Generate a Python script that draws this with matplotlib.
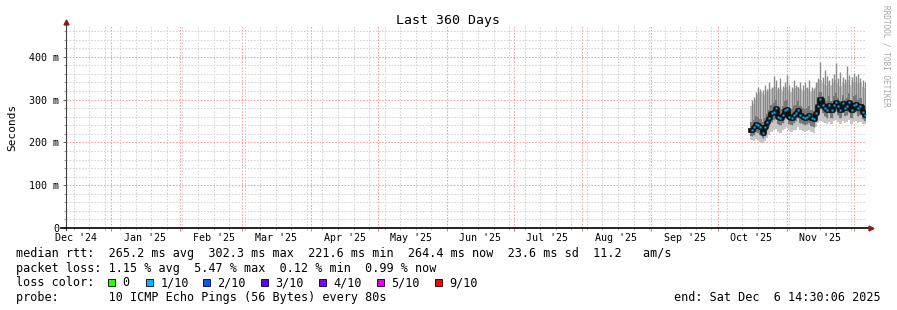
import numpy as np
import pandas as pd
import matplotlib
matplotlib.use('Agg')
import matplotlib.pyplot as plt
import matplotlib.dates as mdates
from matplotlib.ticker import MultipleLocator, NullFormatter
from matplotlib.patches import Rectangle

plt.rcParams['font.family'] = ['DejaVu Sans Mono']

# daily values in ms, Oct 15 2025 -> Dec 6 2025
med = np.array([230, 235, 243, 240, 235, 222, 235, 247, 256, 268,
                272, 280, 260, 258, 264, 276, 278, 260, 258, 264,
                268, 276, 264, 260, 258, 260, 264, 256, 254, 268,
                284, 302, 288, 280, 276, 288, 276, 288, 295, 284,
                276, 291, 280, 284, 295, 276, 288, 290, 280, 284,
                270, 265])
lo = np.array([205, 203, 207, 205, 200, 198, 203, 210, 218, 225,
               228, 232, 225, 222, 228, 232, 235, 228, 225, 228,
               230, 235, 230, 226, 224, 226, 230, 224, 222, 235,
               245, 250, 248, 245, 242, 248, 244, 250, 252, 248,
               244, 250, 246, 248, 252, 244, 248, 250, 246, 248,
               242, 244])
hi = np.array([285, 290, 300, 312, 318, 315, 310, 318, 322, 325,
               328, 330, 322, 325, 320, 326, 330, 322, 318, 325,
               328, 330, 324, 320, 322, 326, 325, 318, 320, 330,
               338, 345, 340, 336, 332, 340, 335, 342, 345, 338,
               332, 342, 336, 340, 345, 335, 340, 342, 336, 338,
               330, 328])
lo2 = np.array([215, 218, 225, 222, 218, 210, 216, 228, 238, 248,
                252, 258, 242, 240, 246, 256, 258, 242, 240, 246,
                250, 256, 246, 242, 240, 242, 246, 238, 236, 250,
                265, 278, 268, 262, 258, 268, 258, 268, 274, 265,
                258, 270, 262, 265, 274, 258, 268, 270, 262, 265,
                254, 250])
hi2 = np.array([248, 252, 262, 260, 255, 248, 256, 266, 275, 288,
                292, 300, 280, 278, 284, 296, 298, 280, 278, 284,
                288, 296, 284, 280, 278, 280, 284, 276, 274, 290,
                305, 318, 308, 300, 296, 308, 296, 308, 315, 304,
                296, 310, 300, 304, 315, 296, 308, 310, 300, 304,
                290, 285])
spike = np.array([300, 305, 318, 330, 325, 322, 335, 325, 340, 330,
                  355, 345, 330, 350, 332, 340, 358, 335, 330, 345,
                  335, 330, 342, 335, 340, 330, 345, 330, 328, 340,
                  350, 389, 352, 370, 355, 345, 350, 360, 385, 350,
                  365, 352, 348, 378, 358, 352, 363, 355, 360, 350,
                  345, 340])

month_labels = ["Dec '24", "Jan '25", "Feb '25", "Mar '25", "Apr '25", "May '25",
                "Jun '25", "Jul '25", "Aug '25", "Sep '25", "Oct '25", "Nov '25"]
month_label_dates = ['2024-12-16', '2025-01-16', '2025-02-16', '2025-03-16',
                     '2025-04-16', '2025-05-16', '2025-06-16', '2025-07-16',
                     '2025-08-16', '2025-09-16', '2025-10-16', '2025-11-16']
y_ticks = [0, 100, 200, 300, 400]
y_ticklabels = ['0', '100 m', '200 m', '300 m', '400 m']

loss_labels = ['0', '1/10', '2/10', '3/10', '4/10', '5/10', '9/10']
loss_colors = ['#26ff00', '#00b8ff', '#0059ff', '#5e00ff', '#7e00ff', '#dd00ff', '#ff0000']

W, H = 897, 310
fig = plt.figure(figsize=(W / 100, H / 100), dpi=100)
ax = fig.add_axes([66 / W, 1 - 228 / H, 800 / W, 202 / H])

t0 = pd.Timestamp('2024-12-11 14:30:06')
t1 = pd.Timestamp('2025-12-06 14:30:06')
days = pd.date_range('2025-10-15 14:30', periods=len(med), freq='D')
mid = days + pd.Timedelta('12h')

# smoke
ax.bar(days, hi - lo, bottom=lo, width=1.0, align='edge', color='#c6c6c6', linewidth=0, zorder=2)
ax.vlines(mid, lo2, spike, color='#8a8a8a', lw=1, zorder=2)
ax.bar(days, hi2 - lo2, bottom=lo2, width=1.0, align='edge', color='#777777', linewidth=0, zorder=3)
edges = days.append(pd.DatetimeIndex([days[-1] + pd.Timedelta('1D')]))
ax.step(edges, np.append(med, med[-1]), where='post', color='#111111', lw=3.4, zorder=4)
ax.plot(mid, med, 's', ms=1.7, color='#00b8ff', mec='none', zorder=5)

ax.set_xlim(t0, t1)
ax.set_ylim(0, 472)

# grid
ax.xaxis.set_major_locator(mdates.MonthLocator())
ax.xaxis.set_minor_locator(mdates.WeekdayLocator(byweekday=mdates.SU))
ax.xaxis.set_major_formatter(NullFormatter())
ax.set_yticks(y_ticks)
ax.set_yticklabels(y_ticklabels)
ax.yaxis.set_minor_locator(MultipleLocator(20))
ax.set_axisbelow(True)
ax.grid(which='minor', color='#d4d4d4', ls=(0, (1.5, 1.5)), lw=0.75)
ax.grid(which='major', color='#f0a0a0', ls=(0, (1.5, 1.5)), lw=0.75)
ax.tick_params(axis='y', which='major', length=2.5, width=0.75, color='#666666', labelsize=7.2, pad=2.2)
ax.tick_params(axis='y', which='minor', length=1.5, width=0.75, color='#999999')
ax.tick_params(axis='x', which='major', length=2.5, width=0.75, color='#e08080')
ax.tick_params(axis='x', which='minor', length=1.5, width=0.75, color='#bbbbbb')
for s in ax.spines.values():
    s.set_visible(False)

for lab, d in zip(month_labels, month_label_dates):
    ax.text(mdates.date2num(pd.Timestamp(d).to_pydatetime()), -10 / 202, lab,
            transform=ax.get_xaxis_transform(), ha='center', va='center', fontsize=7.2)

# axes with arrows
ax.plot([0, 0], [-0.012, 1.018], transform=ax.transAxes, color='#444444', lw=0.8, clip_on=False, zorder=6)
ax.plot([0], [1.02], marker='^', ms=3.5, color='#8b1a1a', transform=ax.transAxes, clip_on=False, zorder=6)
ax.plot([-0.006, 1.004], [0, 0], transform=ax.transAxes, color='black', lw=1.2, clip_on=False, zorder=6)
ax.plot([1.006], [0], marker='>', ms=3.5, color='#8b1a1a', transform=ax.transAxes, clip_on=False, zorder=6)

ax.set_ylabel('Seconds', fontsize=8)
ax.yaxis.set_label_coords(-49 / 800, 0.5)

fig.text(447.5 / W, 1 - 24 / H, 'Last 360 Days', ha='center', va='baseline', fontsize=9.5)
fig.text(886 / W, 1 - 5 / H, 'RRDTOOL / TOBI OETIKER', rotation=270, ha='center', va='top',
         fontsize=5.6, color='#a8a8a8')

fs = 8.5
fig.text(16 / W, 1 - 257.5 / H,
         'median rtt:  265.2 ms avg  302.3 ms max  221.6 ms min  264.4 ms now  23.6 ms sd  11.2   am/s',
         va='baseline', fontsize=fs)
fig.text(16 / W, 1 - 272 / H,
         'packet loss: 1.15 % avg  5.47 % max  0.12 % min  0.99 % now',
         va='baseline', fontsize=fs)
fig.text(16 / W, 1 - 286.5 / H, 'loss color:', va='baseline', fontsize=fs)
box_x = [108, 146, 203, 261, 319, 377, 435]
for bx, lab, c in zip(box_x, loss_labels, loss_colors):
    fig.patches.append(Rectangle((bx / W, 1 - 285.5 / H), 7 / W, 7 / H, transform=fig.transFigure,
                                 facecolor=c, edgecolor='black', lw=0.6, figure=fig))
    fig.text((bx + 14.5) / W, 1 - 286.5 / H, lab, va='baseline', fontsize=fs)
fig.text(16 / W, 1 - 301 / H, 'probe:       10 ICMP Echo Pings (56 Bytes) every 80s', va='baseline', fontsize=fs)
fig.text(881 / W, 1 - 301 / H, 'end: Sat Dec  6 14:30:06 2025', ha='right', va='baseline', fontsize=fs)

fig.savefig('out.png', dpi=100)
